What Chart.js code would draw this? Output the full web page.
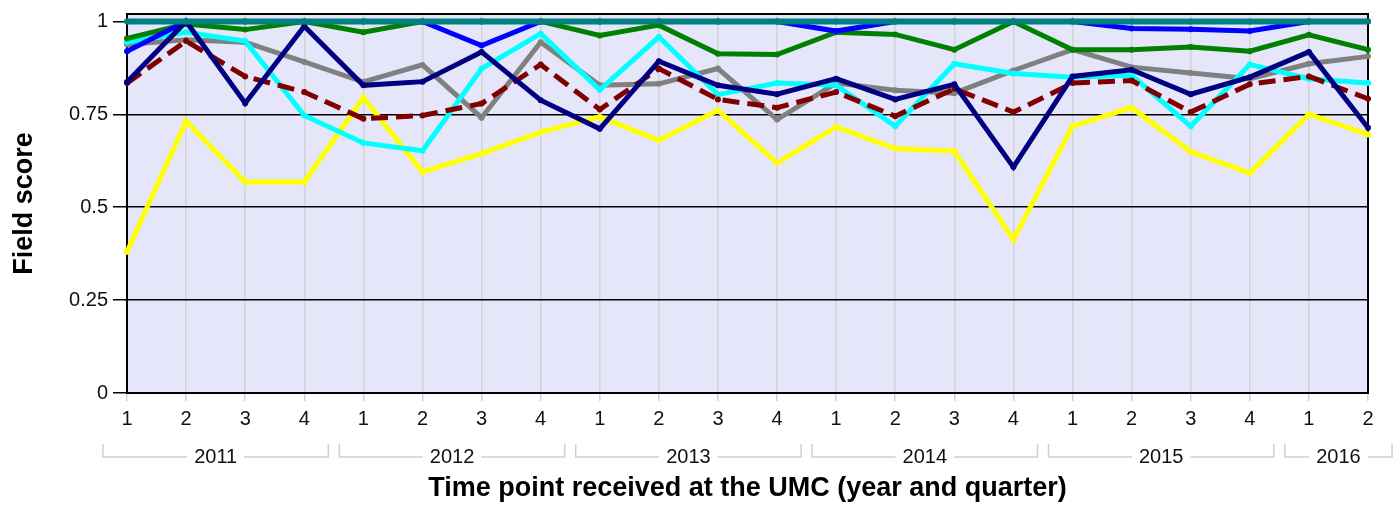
<!DOCTYPE html>
<html>
<head>
<meta charset="utf-8">
<script src="https://cdn.jsdelivr.net/npm/chart.js@4.4.1/dist/chart.umd.min.js"></script>
<style>
  html, body { margin: 0; padding: 0; background: #fff; }
  #wrap { width: 1394px; height: 505px; }
</style>
</head>
<body>
<div id="wrap"><canvas id="fieldScoreChart" width="1394" height="505"></canvas></div>
<script>
// quarters 2011 Q1 .. 2016 Q2
const quarters = ['1','2','3','4','1','2','3','4','1','2','3','4','1','2','3','4','1','2','3','4','1','2'];
const years = ['2011', '2012', '2013', '2014', '2015', '2016'];
const yearSpans = [[0, 3], [4, 7], [8, 11], [12, 15], [16, 19], [20, 21]];
const yTicks = [0, 0.25, 0.5, 0.75, 1];

const tealScores   = [1,1,1,1,1,1,1,1,1,1,1,1,1,1,1,1,1,1,1,1,1,1];
const blueScores   = [0.92,1,1,1,1,1,0.935,1,1,1,1,1,0.974,1,1,1,1,0.981,0.979,0.974,1,1];
const greenScores  = [0.954,0.993,0.978,1,0.971,1,1,1,0.962,0.99,0.913,0.911,0.971,0.965,0.924,1,0.924,0.924,0.931,0.92,0.964,0.924];
const cyanScores   = [0.944,0.971,0.947,0.747,0.673,0.652,0.873,0.967,0.816,0.958,0.803,0.834,0.828,0.718,0.886,0.86,0.85,0.855,0.718,0.884,0.846,0.834];
const grayScores   = [0.938,0.951,0.944,0.891,0.837,0.883,0.741,0.944,0.828,0.832,0.873,0.736,0.834,0.815,0.807,0.868,0.924,0.877,0.861,0.846,0.886,0.906];
const navyScores   = [0.837,1,0.78,0.987,0.828,0.838,0.918,0.788,0.711,0.893,0.828,0.804,0.846,0.79,0.831,0.608,0.852,0.87,0.804,0.85,0.918,0.714];
const maroonScores = [0.834,0.947,0.852,0.81,0.738,0.747,0.779,0.884,0.763,0.873,0.79,0.768,0.81,0.745,0.819,0.756,0.834,0.841,0.756,0.831,0.852,0.792];
const yellowScores = [0.38,0.732,0.568,0.568,0.795,0.595,0.644,0.702,0.743,0.68,0.761,0.619,0.716,0.658,0.651,0.413,0.718,0.768,0.649,0.592,0.75,0.696];

const FONT = "'Liberation Sans', Arial, sans-serif";

function line(data, color, width, dashed) {
    return {
        data: data,
        borderColor: color,
        backgroundColor: color,
        borderWidth: width,
        borderDash: dashed ? [17, 8] : [],
        pointRadius: 3,
        pointBorderWidth: 0,
        pointBackgroundColor: color,
        tension: 0,
        fill: false
    };
}

// lavender plot area + box around it
const plotFrame = {
    id: 'plotFrame',
    beforeDraw(chart) {
        const { ctx, chartArea: a } = chart;
        ctx.save();
        ctx.fillStyle = '#e6e6fa';
        ctx.fillRect(a.left, a.top, a.right - a.left, a.bottom - a.top);
        ctx.restore();
    },
    beforeDatasetsDraw(chart) {
        const { ctx, chartArea: a } = chart;
        ctx.save();
        ctx.strokeStyle = '#000';
        ctx.lineWidth = 2;
        ctx.strokeRect(a.left, a.top, a.right - a.left, a.bottom - a.top);
        ctx.restore();
    }
};

// year brackets under the quarter labels
const yearBrackets = {
    id: 'yearBrackets',
    afterDraw(chart) {
        const { ctx, chartArea } = chart;
        const xs = chart.scales.x;
        const half = (xs.getPixelForValue(1) - xs.getPixelForValue(0)) / 2;
        const y = chartArea.bottom + 64;
        ctx.save();
        ctx.font = '20px ' + FONT;
        ctx.textAlign = 'center';
        ctx.textBaseline = 'middle';
        ctx.strokeStyle = '#d0d0d0';
        ctx.lineWidth = 1.5;
        yearSpans.forEach(([s, e], k) => {
            const x0 = xs.getPixelForValue(s) - half + 5.5;
            const x1 = xs.getPixelForValue(e) + half - 5.5;
            const mid = (x0 + x1) / 2;
            const tw = ctx.measureText(years[k]).width;
            ctx.beginPath();
            ctx.moveTo(x0, y - 13);
            ctx.lineTo(x0, y);
            ctx.lineTo(mid - tw / 2 - 7, y);
            ctx.moveTo(mid + tw / 2 + 7, y);
            ctx.lineTo(x1, y);
            ctx.lineTo(x1, y - 13);
            ctx.stroke();
            ctx.fillStyle = '#111';
            ctx.fillText(years[k], mid, y);
        });
        ctx.restore();
    }
};

new Chart(document.getElementById('fieldScoreChart'), {
    type: 'line',
    data: {
        labels: quarters,
        // first dataset is drawn on top
        datasets: [
            line(tealScores, '#008080', 6),
            line(navyScores, '#000080', 5),
            line(maroonScores, '#800000', 5, true),
            line(blueScores, '#0000ff', 5),
            line(greenScores, '#008000', 5),
            line(cyanScores, '#00ffff', 5),
            line(grayScores, '#808080', 5),
            line(yellowScores, '#ffff00', 5)
        ]
    },
    options: {
        responsive: false,
        animation: false,
        layout: { padding: { top: 14, right: 26, left: 0, bottom: 0 } },
        plugins: {
            legend: { display: false },
            tooltip: { enabled: false }
        },
        scales: {
            x: {
                offset: false,
                grid: { color: '#d3d3d3', lineWidth: 1.5, tickLength: 8, offset: false },
                border: { color: '#000', width: 2 },
                ticks: { color: '#111', font: { family: FONT, size: 20 }, padding: 6, maxRotation: 0, autoSkip: false },
                title: {
                    display: true,
                    text: 'Time point received at the UMC (year and quarter)',
                    color: '#000',
                    font: { family: FONT, size: 27, weight: 'bold' },
                    padding: { top: 0, bottom: 0 }
                },
                afterFit(scale) { scale.height = 112; }
            },
            y: {
                min: 0,
                max: 1.02,
                afterBuildTicks(scale) { scale.ticks = yTicks.map(v => ({ value: v })); },
                grid: { color: '#000', lineWidth: 1.5, tickLength: 14 },
                border: { color: '#000', width: 2 },
                ticks: { color: '#111', font: { family: FONT, size: 20 }, padding: 5, callback: v => String(v) },
                title: {
                    display: true,
                    text: 'Field score',
                    color: '#000',
                    font: { family: FONT, size: 27, weight: 'bold' },
                    padding: { top: 8, bottom: 0 }
                },
                afterFit(scale) {
                    scale.width = 127;
                    scale.paddingTop = 0;
                    scale.paddingBottom = 0;
                }
            }
        }
    },
    plugins: [plotFrame, yearBrackets]
});
</script>
</body>
</html>
